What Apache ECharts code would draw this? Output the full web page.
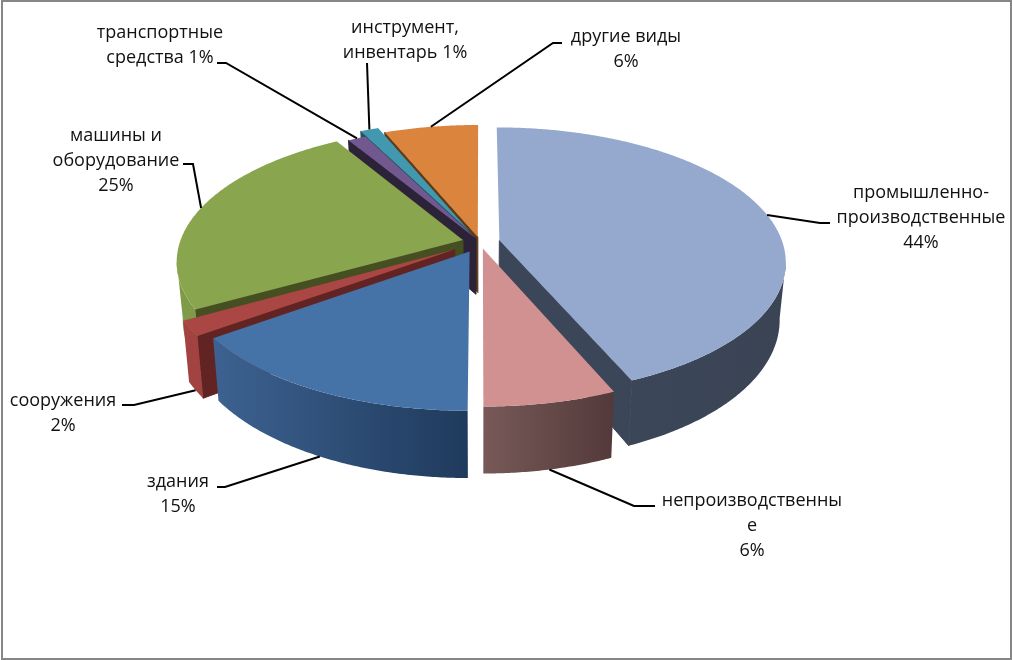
<!DOCTYPE html>
<html>
<head>
<meta charset="utf-8">
<style>html,body{margin:0;background:#fff}#chart{width:1012px;height:660px}</style>
<script src="https://cdn.jsdelivr.net/npm/echarts@6/dist/echarts.min.js"></script>
</head>
<body>
<div id="chart"></div>
<script>
// data, clockwise from 12 o'clock. labels only show rounded percents, slices read a bit finer
var categories = ['промышленно-\nпроизводственные', 'непроизводственны\nе', 'здания', 'сооружения', 'машины и\nоборудование', 'транспортные\nсредства', 'инструмент,\nинвентарь', 'другие виды'];
var values = [43.6, 6.4, 15, 1.8, 24.6, 1.2, 1.2, 6.2];
var percentSeparators = ['\n', '\n', '\n', '\n', '\n', ' ', ' ', '\n'];

// per slice styling
var topColors = ['#95a9cf', '#d09190', '#4572a7', '#aa4643', '#89a54e', '#71588f', '#4198af', '#db843d'];
var wallLeft = ['#3b4658', '#775a58', '#3d6291', '#a34341', '#7f9a48', '#4a3a5e', '#2b6373', '#8f5628'];
var wallRight = ['#3a4455', '#53393a', '#1f3a5c', '#a34341', '#7f9a48', '#4a3a5e', '#2b6373', '#8f5628'];
var faceColors = ['#3b4658', '#53393a', '#2a4a70', '#622423', '#454f22', '#2d2339', '#215360', '#5e3a17'];
var explode = [0.07, 0.05, 0.08, 0.105, 0.0625, 0.03, 0.09, 0.04];

// label layout: text centre x, first line y, and the leader's elbow points
var labelX = [921, 752, 178, 63, 116, 160, 405, 626];
var labelY = [180, 488, 469, 388, 123, 20, 15, 24];
var leaderEnds = [
  [[820, 223], [830, 223]],
  [[634, 506], [655, 506]],
  [[225, 487], [217, 487]],
  [[134, 405], [122, 405]],
  [[193, 164], [183, 164]],
  [[226, 63], [217, 63]],
  [[367, 63], [367, 63]],
  [[553, 43], [562, 43]]
];
var anchorWall = [0, 1, 1, 1, 0, 0, 0, 0];

// projection of the pie plane to the screen
var cx = 480, cy = 242, rx = 283, ry = 131, persp = 0.157, wallH = 56, wallShrink = 0.02;
var wallFrom = 99, wallTo = 261;

function project(u, v, down) {
  var d = 1 - persp * v, h = down || 0;
  return [cx + (1 - wallShrink * h) * rx * u / d, cy + ry * v / d + h * wallH / d];
}

var total = values.reduce(function (a, b) { return a + b; }, 0);
var starts = [], acc = 0;
values.forEach(function (v) { starts.push(acc / total * 360); acc += v; });
var ends = starts.map(function (s, i) { return s + values[i] / total * 360; });
var mids = starts.map(function (s, i) { return (s + ends[i]) / 2; });
var rad = function (a) { return a * Math.PI / 180; };

// back slices paint first
var paintRank = [];
values.map(function (v, i) { return i; })
  .sort(function (a, b) { return Math.cos(rad(mids[b])) - Math.cos(rad(mids[a])); })
  .forEach(function (idx, r) { paintRank[idx] = r; });

function rimPoint(i, a, down) {
  var ex = explode[i] * Math.sin(rad(mids[i])), ey = -explode[i] * Math.cos(rad(mids[i]));
  return project(ex + Math.sin(rad(a)), ey - Math.cos(rad(a)), down);
}
function apexPoint(i, down) {
  var ex = explode[i] * Math.sin(rad(mids[i])), ey = -explode[i] * Math.cos(rad(mids[i]));
  return project(ex, ey, down);
}
function arc(i, from, to, down) {
  var pts = [], n = Math.max(2, Math.ceil((to - from) * 2));
  for (var k = 0; k <= n; k++) pts.push(rimPoint(i, from + (to - from) * k / n, down));
  return pts;
}

function renderSlice(params, api) {
  var i = params.dataIndex, a = starts[i], b = ends[i], base = paintRank[i] * 10;
  var children = [];
  function poly(points, fill, z, stroke) {
    children.push({
      type: 'polygon', z2: base + z, shape: { points: points },
      style: { fill: fill, stroke: stroke || null, lineWidth: stroke ? 1 : 0 }
    });
  }
  // radial faces seen by the viewer, stroked so no seam shows against the wall
  if (Math.sin(rad(a)) < 0) {
    poly([apexPoint(i, 0), rimPoint(i, a, 0), rimPoint(i, a, 1), apexPoint(i, 1)], faceColors[i], 0, faceColors[i]);
  }
  if (Math.sin(rad(b)) > 0.01) {
    poly([apexPoint(i, 0), rimPoint(i, b, 0), rimPoint(i, b, 1), apexPoint(i, 1)], faceColors[i], 0, faceColors[i]);
  }
  // outer wall, only the part turned to the front
  var f = Math.max(a, wallFrom), t = Math.min(b, wallTo);
  if (t > f) {
    poly(arc(i, f, t, 0).concat(arc(i, f, t, 1).reverse()), new echarts.graphic.LinearGradient(0, 0, 1, 0, [
      { offset: 0, color: wallLeft[i] }, { offset: 1, color: wallRight[i] }
    ]), 1);
  }
  // top
  poly([apexPoint(i, 0)].concat(arc(i, a, b, 0)), topColors[i], 2);
  // leader
  var anchor = rimPoint(i, mids[i], anchorWall[i]);
  children.push({
    type: 'polyline', z2: 500,
    shape: { points: [anchor].concat(leaderEnds[i]) },
    style: { stroke: '#000', lineWidth: 2, fill: null }
  });
  children.push({
    type: 'text', z2: 501,
    style: {
      x: labelX[i], y: labelY[i],
      text: categories[i] + percentSeparators[i] + Math.round(values[i]) + '%',
      fill: '#111', align: 'center', verticalAlign: 'top',
      font: '18px "Open Sans"', lineHeight: 25
    }
  });
  return { type: 'group', children: children };
}

var chart = echarts.init(document.getElementById('chart'), null, { renderer: 'canvas' });
chart.setOption({
  animation: false,
  backgroundColor: '#fff',
  graphic: [{
    type: 'rect', silent: true,
    shape: { x: 2, y: 1, width: 1009, height: 658 },
    style: { fill: null, stroke: '#868686', lineWidth: 2 }
  }],
  series: [{
    type: 'custom',
    coordinateSystem: 'none',
    silent: true,
    clip: false,
    data: values.map(function (v, i) { return { name: categories[i], value: [v] }; }),
    renderItem: renderSlice
  }]
});
</script>
</body>
</html>
